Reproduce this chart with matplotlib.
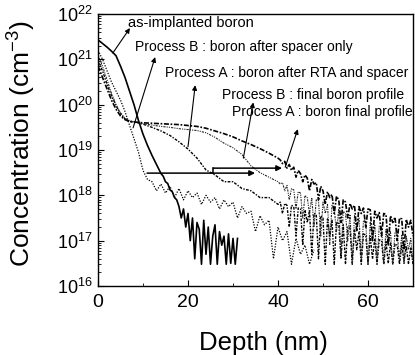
import matplotlib
matplotlib.use("Agg")
import matplotlib.pyplot as plt
import numpy as np
from matplotlib.ticker import LogLocator, MultipleLocator

plt.rcParams["font.family"] = ["Liberation Sans", "DejaVu Sans"]
plt.rcParams["mathtext.default"] = "regular"

# --- data (depth in nm, log10 of concentration in cm^-3)
asimpl_depth = [0, 1, 2, 3, 4, 5, 6, 7, 8, 9, 10, 11, 12, 13, 14,
                14.5, 15, 15.5, 16, 16.5, 17, 17.5, 18, 18.5, 19, 19.5, 20, 20.5, 21, 21.5,
                22, 22.5, 23, 23.5, 24, 24.5, 25, 25.5, 26, 26.5, 27, 27.5, 28, 28.5, 29,
                29.5, 30, 30.5, 31]
asimpl_log = [21.43, 21.35, 21.27, 21.18, 21.08, 20.85, 20.6, 20.3, 20.0, 19.65,
              19.35, 19.1, 18.88, 18.68, 18.48, 18.42, 18.3, 18.26, 18.12, 18.08,
              17.95, 17.9, 17.75, 17.5, 17.7,
              17.3, 17.6, 17.0, 17.5, 16.6, 17.4, 17.25, 16.48, 17.45, 16.7,
              17.3, 16.48, 17.1, 17.35, 16.48, 17.2, 16.9, 17.1, 16.48, 17.15,
              16.5, 17.05, 16.48, 17.05]

b_spacer_depth = list(range(0, 49))
b_spacer_log = [21.2, 21.0, 20.75, 20.5, 20.3, 20.1, 19.85, 19.55, 19.25, 18.95,
                18.55, 18.35, 18.3, 18.1, 18.25, 18.05, 18.2, 17.95, 18.15, 17.9,
                18.1, 17.95, 18.05, 17.8, 18.0, 17.85, 17.95, 17.7, 17.9, 17.75,
                17.85, 17.5, 17.75, 17.6, 17.65, 17.2, 17.55, 17.35, 17.45, 16.6,
                17.3, 17.0, 17.2, 16.48, 17.05, 16.7, 16.9, 16.48, 16.8]

a_rta_depth = list(range(0, 11)) + list(range(12, 41, 2)) + [40.5 + 0.5 * i for i in range(60)]
a_rta_log = [20.95, 20.75, 20.45, 20.2, 19.98, 19.8, 19.68, 19.63, 19.61, 19.6, 19.57,
             19.5, 19.42, 19.32, 19.18, 19.02, 18.82, 18.56, 18.45, 18.3, 18.3,
             18.15, 18.1, 17.95, 17.95, 17.8,
             17.85, 17.6, 17.82, 17.78, 17.3, 17.78, 17.75, 17.1, 17.72, 17.7,
             16.9, 17.68, 17.4, 17.65, 16.7, 17.6, 17.58, 16.6, 17.55, 17.5,
             16.48, 17.48, 17.1, 17.45, 16.48, 17.4, 17.38, 16.6, 17.35, 16.48,
             17.3, 17.28, 16.48, 17.25, 16.8, 17.2, 16.48, 17.15, 17.12, 16.48,
             17.1, 16.6, 17.05, 16.48, 17.02, 17.0, 16.48, 16.98, 16.5, 16.95,
             16.48, 16.93, 16.9, 16.48, 16.9, 16.55, 16.88, 16.48, 16.86, 16.48]

b_final_depth = list(range(0, 9)) + list(range(10, 41, 2)) + [40.5 + 0.5 * i for i in range(60)]
b_final_log = [21.1, 20.85, 20.55, 20.25, 20.0, 19.82, 19.7, 19.65, 19.62,
               19.58, 19.55, 19.52, 19.5, 19.47, 19.45, 19.43, 19.38, 19.28, 19.15,
               19.05, 18.9, 18.65, 18.5, 18.4, 18.3,
               18.25, 18.28, 18.1, 18.22, 17.9, 18.15, 18.12, 17.7, 18.08, 18.05,
               17.5, 18.0, 17.95, 17.6, 17.95, 17.3, 17.9, 17.88, 17.1, 17.85,
               17.6, 17.8, 16.9, 17.78, 17.7, 17.2, 17.7, 16.7, 17.65, 17.6,
               17.0, 17.58, 16.5, 17.55, 17.3, 17.5, 16.6, 17.45, 17.42, 16.48,
               17.4, 17.0, 17.36, 16.55, 17.32, 17.3, 16.48, 17.25, 16.9, 17.2,
               16.48, 17.18, 17.15, 16.6, 17.12, 16.48, 17.1, 16.8, 17.05, 16.48]

a_final_depth = list(range(0, 9)) + list(range(10, 41, 2)) + [40.5 + 0.5 * i for i in range(60)]
a_final_log = [20.85, 20.6, 20.35, 20.1, 19.9, 19.75, 19.67, 19.63, 19.62,
               19.6, 19.59, 19.58, 19.57, 19.56, 19.54, 19.52, 19.48, 19.42, 19.36,
               19.29, 19.2, 19.12, 19.03, 18.93, 18.82,
               18.78, 18.7, 18.75, 18.6, 18.68, 18.55, 18.62, 18.4, 18.55, 18.48,
               18.3, 18.45, 18.38, 18.1, 18.35, 18.25, 18.28, 17.9, 18.2, 18.1,
               17.8, 18.08, 17.95, 18.02, 17.6, 17.98, 17.9, 17.4, 17.9, 17.85,
               17.5, 17.82, 17.7, 17.78, 17.2, 17.75, 17.6, 17.72, 17.3, 17.7,
               17.68, 17.0, 17.65, 17.5, 17.62, 17.1, 17.6, 17.58, 16.9, 17.55,
               17.4, 17.52, 17.0, 17.5, 17.48, 16.8, 17.47, 17.3, 17.45, 17.1]

# labels: (text, text left depth, text log10 y, arrow head, arrow tail)
labels = [
    ("as-implanted boron", 6.7, 21.80, (7.1, 21.69), (3.3, 21.14)),
    ("Process B : boron after spacer only", 8.2, 21.27, (12.7, 21.05), (7.8, 19.49)),
    ("Process A : boron after RTA and spacer", 14.9, 20.70, (21.6, 20.43), (20.0, 19.07)),
    ("Process B : final boron profile", 27.6, 20.21, (34.5, 20.05), (32.3, 18.82)),
    ("Process A : boron final profile", 29.8, 19.84, (44.4, 19.46), (41.6, 18.62)),
]

# horizontal shift arrows (start depth, end depth, log10 level)
shift_arrows = [(10.9, 34.9, 18.49), (25.6, 40.9, 18.60)]

fig = plt.figure(figsize=(4.15, 3.55), dpi=100)
ax = fig.add_axes([98 / 415, 69 / 355, 315 / 415, 272 / 355])

ax.plot(asimpl_depth, np.power(10.0, asimpl_log), color="black", lw=1.2)
ax.plot(b_spacer_depth, np.power(10.0, b_spacer_log), color="black", lw=0.9,
        ls=(0, (1, 1.2)))
ax.plot(a_rta_depth, np.power(10.0, a_rta_log), color="black", lw=1.0,
        ls=(0, (2, 1, 1, 1)))
ax.plot(b_final_depth, np.power(10.0, b_final_log), color="0.15", lw=0.8,
        ls=(0, (2, 1, 1, 1, 1, 1)))
ax.plot(a_final_depth, np.power(10.0, a_final_log), color="black", lw=1.2,
        ls=(0, (3, 1, 1, 1)))

for i, (text, tx, ty, head, tail) in enumerate(labels):
    ax.text(tx, 10 ** ty, text, fontsize=10.5 if i == 0 else 10, ha="left", va="center")
    ax.annotate("", xy=(head[0], 10 ** head[1]), xytext=(tail[0], 10 ** tail[1]),
                arrowprops=dict(arrowstyle="-|>", color="black", lw=0.8,
                                mutation_scale=7, shrinkA=0, shrinkB=0))

for x0, x1, lv in shift_arrows:
    ax.annotate("", xy=(x1, 10 ** lv), xytext=(x0, 10 ** lv),
                arrowprops=dict(arrowstyle="-|>", color="black", lw=1.1,
                                mutation_scale=8, shrinkA=0, shrinkB=0))
ax.plot([shift_arrows[1][0]] * 2, [10 ** shift_arrows[0][2], 10 ** shift_arrows[1][2]],
        color="black", lw=1.1)

ax.set_yscale("log")
ax.set_xlim(0, 70)
ax.set_ylim(1e16, 1e22)
ax.xaxis.set_major_locator(MultipleLocator(20))
ax.xaxis.set_minor_locator(MultipleLocator(10))
ax.yaxis.set_major_locator(LogLocator(base=10, numticks=10))
ax.yaxis.set_minor_locator(LogLocator(base=10, subs=np.arange(2, 10), numticks=10))
ax.tick_params(axis="both", which="both", direction="in", top=False, right=False)
ax.tick_params(axis="both", which="major", length=4, width=0.8)
ax.tick_params(axis="both", which="minor", length=2.5, width=0.6)
ax.tick_params(axis="x", labelsize=14, pad=6)
ax.tick_params(axis="y", labelsize=13, pad=4)
for sp in ax.spines.values():
    sp.set_linewidth(1.0)

ax.set_xlabel("Depth (nm)", fontsize=18.5)
ax.xaxis.set_label_coords(0.524, -0.165)
ax.set_ylabel("Concentration (cm$^{-3}$)", fontsize=19)
ax.yaxis.set_label_coords(-0.19, 0.522)

fig.savefig("out.png", dpi=100)
